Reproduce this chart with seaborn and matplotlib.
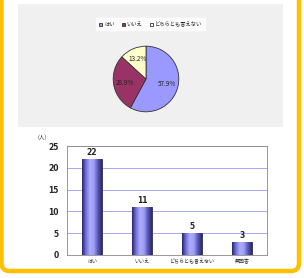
import numpy as np
import pandas as pd
import matplotlib
matplotlib.use('Agg')
import matplotlib.pyplot as plt
import seaborn as sns
from matplotlib.patches import FancyBboxPatch
from matplotlib.colors import LinearSegmentedColormap

# Data
pie_labels = ['はい', 'いいえ', 'どちらとも言えない']
pie_counts = [22, 11, 5]
pie_colors = ['#9999FF', '#993366', '#FFFFCC']

bar_labels = ['はい', 'いいえ', 'どちらとも言えない', '無回答']
bar_counts = [22, 11, 5, 3]
y_ticks = [0, 5, 10, 15, 20, 25]

sns.set_theme(style='white')
plt.rcParams['font.family'] = ['Noto Sans CJK JP', 'DejaVu Sans']

W, H = 304, 278
fig = plt.figure(figsize=(W / 100, H / 100), dpi=100)
fig.patch.set_facecolor('white')


def px_axes(x0, y0, x1, y1, **kw):
    # pixel box (top-left origin) -> figure axes
    return fig.add_axes([x0 / W, (H - y1) / H, (x1 - x0) / W, (y1 - y0) / H], **kw)


# yellow rounded frame
frame = px_axes(0, 0, W, H)
frame.set_xlim(0, W)
frame.set_ylim(H, 0)
frame.axis('off')
frame.add_patch(FancyBboxPatch((1.5, -30), 297.5, 301, boxstyle='round,pad=0,rounding_size=8',
                               fc='none', ec='#FFC000', lw=3.2))

# pie panel background
panel = px_axes(18, 4, 283, 127)
panel.set_facecolor('#f0f0f0')
panel.set_xticks([])
panel.set_yticks([])
for s in panel.spines.values():
    s.set_visible(False)

# pie
pax = px_axes(105, 38, 187, 120)
wedges, _, autotexts = pax.pie(pie_counts, colors=pie_colors, startangle=90, counterclock=False,
                               autopct='%.1f%%', pctdistance=0.66,
                               wedgeprops=dict(edgecolor='#333333', linewidth=0.6),
                               textprops=dict(fontsize=4.6, color='#222222'))
pax.set_aspect('equal')

leg = panel.legend(wedges, pie_labels, loc='center', bbox_to_anchor=(0.5, 0.835), ncol=3,
                   fontsize=3.8, frameon=True, fancybox=False, edgecolor='white',
                   handlelength=0.6, handleheight=0.6, handletextpad=0.3, columnspacing=1.4,
                   borderpad=0.6)
leg.get_frame().set_facecolor('white')

# bar chart
ax = px_axes(67, 146, 267, 255)
df = pd.DataFrame({'label': bar_labels, 'count': bar_counts})
sns.barplot(data=df, x='label', y='count', ax=ax, width=0.4, color='#9999FF',
            edgecolor='#222244', linewidth=0.6, zorder=3)

cmap = LinearSegmentedColormap.from_list('barg', ['#26266e', '#7373da', '#acacff', '#9e9ef7', '#5858b6', '#2a2a70'])
grad = np.linspace(0, 1, 64).reshape(1, -1)
for p in ax.patches:
    x, w, h = p.get_x(), p.get_width(), p.get_height()
    im = ax.imshow(grad, cmap=cmap, extent=[x, x + w, 0, h], aspect='auto', zorder=3.5)
    im.set_clip_path(p)
    ax.text(x + w / 2, h + 0.4, str(int(h)), ha='center', va='bottom', fontsize=5.5,
            fontweight='bold', family='DejaVu Sans')

ax.set_xlim(-0.5, len(bar_labels) - 0.5)
ax.set_ylim(0, 25)
ax.set_yticks(y_ticks)
ax.set_yticklabels([str(t) for t in y_ticks], fontsize=5.5, fontweight='bold', family='DejaVu Sans')
ax.set_xticks(range(len(bar_labels)))
ax.set_xticklabels(bar_labels, fontsize=3.6)
ax.set_xticks(np.arange(0.5, len(bar_labels) - 1, 1), minor=True)
ax.tick_params(axis='x', which='major', length=0, pad=3)
ax.tick_params(axis='x', which='minor', length=1.5, width=0.5, color='#666666', direction='out')
ax.tick_params(axis='y', length=0, pad=6)
ax.set_xlabel('')
ax.set_ylabel('')
ax.grid(axis='y', color='#9999FF', linewidth=0.6, zorder=0)
ax.set_axisbelow(True)
for s in ax.spines.values():
    s.set_color('#888888')
    s.set_linewidth(0.6)

fig.text(42 / W, 1 - 137 / H, '(人)', fontsize=4, ha='center', va='center')

fig.savefig('out.png', dpi=100)
